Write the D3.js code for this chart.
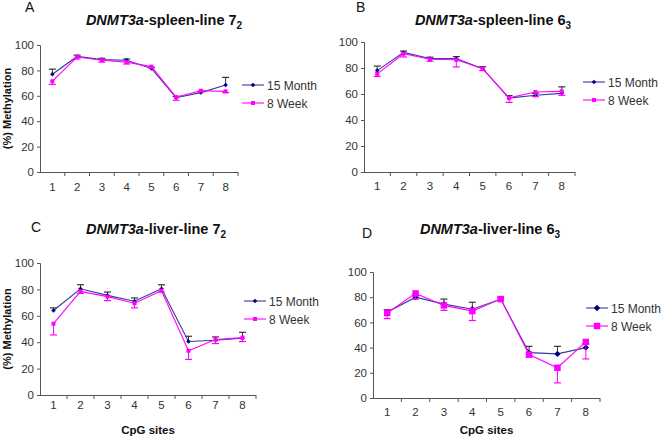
<!DOCTYPE html>
<html><head><meta charset="utf-8">
<script src="https://cdn.jsdelivr.net/npm/d3@7"></script>
<style>
html,body{margin:0;padding:0;background:#fff;}
svg{display:block;font-family:"Liberation Sans",Arial,sans-serif;}
</style></head>
<body>
<svg id="chart" width="662" height="440"></svg>
<script>
// ---------- data ----------
const sites = ["1","2","3","4","5","6","7","8"];
const seriesNames = ["15 Month","8 Week"];
const yTicks = [0,20,40,60,80,100];

const spleen72_month15    = [77, 91, 88.5, 88, 81.5, 58.5, 62.5, 68.5];
const spleen72_month15Err = [4, 1, 1, 1, 1, 1, 1, 6];
const spleen72_week8      = [71.5, 90.5, 88, 86.5, 83, 59, 64, 63.5];
const spleen72_week8Err   = [2.5, 1.5, 1.5, 1.5, 1, 2.5, 1, 1];

const spleen63_month15    = [78, 92, 87.3, 87.3, 79.5, 56.8, 59, 60.5];
const spleen63_month15Err = [3.5, 1, 1, 1.5, 1.5, 2, 1.5, 5];
const spleen63_week8      = [75.5, 91, 86.7, 86.3, 79.5, 57, 61.5, 62];
const spleen63_week8Err   = [2, 2.5, 1.5, 5.5, 1.5, 3.5, 3.5, 3];

const liver72_month15     = [64, 80.5, 75.5, 71, 80.5, 40.5, 41.5, 43];
const liver72_month15Err  = [2, 3, 2.5, 2.5, 3, 4, 2.5, 4.5];
const liver72_week8       = [54, 78.5, 74.5, 69.5, 79, 33.5, 42, 43.5];
const liver72_week8Err    = [8.5, 1.5, 3, 3.5, 1, 6.5, 3, 3];

const liver63_month15     = [68, 80, 74.5, 70.5, 78.5, 36, 35, 40];
const liver63_month15Err  = [2, 1.5, 4, 5.5, 1, 5, 6, 3];
const liver63_week8       = [67.5, 83, 73.5, 69, 78.5, 34.5, 24, 44.5];
const liver63_week8Err    = [4.5, 4.5, 4, 7.5, 1, 2, 12, 13.5];

// ---------- layout ----------
const panels = [
  {letter:"A", tissue:"spleen", line:"7", sub:"2", m:spleen72_month15, me:spleen72_month15Err, w:spleen72_week8, we:spleen72_week8Err,
   x0:40, x1:238, yT:45, yB:172, lx:25, ly:12, tx:164, ty:25, legX:242, legY:85, xlabOff:20, ylab:true, xlab:false, big:false},
  {letter:"B", tissue:"spleen", line:"6", sub:"3", m:spleen63_month15, me:spleen63_month15Err, w:spleen63_week8, we:spleen63_week8Err,
   x0:364, x1:575, yT:42, yB:172, lx:356, ly:12, tx:493, ty:25, legX:583, legY:82, xlabOff:19, ylab:false, xlab:false, big:false},
  {letter:"C", tissue:"liver", line:"7", sub:"2", m:liver72_month15, me:liver72_month15Err, w:liver72_week8, we:liver72_week8Err,
   x0:40, x1:256, yT:263, yB:395, lx:31, ly:232, tx:156, ty:234, legX:244, legY:301, xlabOff:15, ylab:true, xlab:true, big:false},
  {letter:"D", tissue:"liver", line:"6", sub:"3", m:liver63_month15, me:liver63_month15Err, w:liver63_week8, we:liver63_week8Err,
   x0:373, x1:600, yT:272, yB:398, lx:362, ly:238, tx:490, ty:234, legX:586, legY:308, xlabOff:19, ylab:false, xlab:true, big:true}
];

const navyLine = "#3a3a9a", navy = "#000080", mag = "#ff00ff", axisCol = "#555", txtCol = "#333";
const svg = d3.select("#chart");

panels.forEach(p => {
  const g = svg.append("g");
  const x = d3.scaleBand().domain(sites).range([p.x0, p.x1]);
  const y = d3.scaleLinear().domain([0,100]).range([p.yB, p.yT]);
  const cx = d => x(d) + x.bandwidth()/2;

  // y axis
  const ya = g.append("g").attr("transform", `translate(${p.x0},0)`)
    .call(d3.axisLeft(y).tickValues(yTicks).tickSize(3).tickPadding(3));
  ya.select(".domain").attr("stroke", axisCol);
  ya.selectAll(".tick line").attr("stroke", axisCol);
  ya.selectAll(".tick text").attr("fill", txtCol).style("font-size","11.5px").style("font-family","Liberation Sans, Arial, sans-serif");

  // x axis
  const xa = g.append("g").attr("transform", `translate(0,${p.yB})`)
    .call(d3.axisBottom(x).tickSize(0).tickPadding(p.xlabOff - 9));
  xa.select(".domain").attr("stroke", axisCol).attr("d", `M${p.x0},0.5H${p.x1}`);
  xa.selectAll(".tick text").attr("fill", txtCol).style("font-size","11.5px").style("font-family","Liberation Sans, Arial, sans-serif");
  // boundary ticks
  const bounds = sites.map(s => x(s)).concat([p.x1]).slice(1);
  g.selectAll(".bt").data(bounds).enter().append("line")
    .attr("x1", d => d).attr("x2", d => d).attr("y1", p.yB).attr("y2", p.yB + 4)
    .attr("stroke", axisCol);

  // series
  const series = [
    {vals:p.m, err:p.me, dir:1, line:navyLine, mark:navy, errCol:"#333", shape:"diamond"},
    {vals:p.w, err:p.we, dir:-1, line:mag, mark:mag, errCol:mag, shape:"square"}
  ];
  const symSize = s => s.shape === "diamond" ? (p.big ? 20 : 10) : (p.big ? 42 : 16);
  const rot = s => s.shape === "diamond" ? " rotate(45)" : "";
  series.forEach(s => {
    const pts = sites.map((c,i) => ({c, v:s.vals[i], e:s.err[i]}));
    // error bars
    pts.forEach(d => {
      const yv = y(d.v), ye = y(d.v + s.dir*d.e);
      g.append("line").attr("x1", cx(d.c)).attr("x2", cx(d.c)).attr("y1", yv).attr("y2", ye).attr("stroke", s.errCol).attr("stroke-width",1);
      g.append("line").attr("x1", cx(d.c)-3.5).attr("x2", cx(d.c)+3.5).attr("y1", ye).attr("y2", ye).attr("stroke", s.errCol).attr("stroke-width",1.2);
    });
    g.append("path").datum(pts)
      .attr("d", d3.line().x(d => cx(d.c)).y(d => y(d.v)))
      .attr("fill","none").attr("stroke", s.line).attr("stroke-width", 1.1);
    const sym = d3.symbol().type(d3.symbolSquare).size(symSize(s));
    g.selectAll(null).data(pts).enter().append("path")
      .attr("d", sym).attr("transform", d => `translate(${cx(d.c)},${y(d.v)})${rot(s)}`)
      .attr("fill", s.mark);
  });

  // legend
  series.forEach((s,i) => {
    const ly = p.legY + i*18;
    g.append("line").attr("x1", p.legX).attr("x2", p.legX + 22).attr("y1", ly).attr("y2", ly).attr("stroke", s.line).attr("stroke-width",1.1);
    const sym = d3.symbol().type(d3.symbolSquare).size(symSize(s));
    g.append("path").attr("d", sym).attr("transform", `translate(${p.legX+11},${ly})${rot(s)}`).attr("fill", s.mark);
    g.append("text").attr("x", p.legX + 25).attr("y", ly + 4.5).text(seriesNames[i])
      .attr("fill", txtCol).style("font-size","12px");
  });

  // panel letter
  g.append("text").attr("x", p.lx).attr("y", p.ly).text(p.letter).attr("fill","#111").style("font-size","14px");

  // title
  const t = g.append("text").attr("x", p.tx).attr("y", p.ty).attr("text-anchor","middle")
    .attr("fill","#111").style("font-size","14.5px").style("font-weight","bold");
  t.append("tspan").style("font-style","italic").text("DNMT3a");
  t.append("tspan").text(`-${p.tissue}-line ${p.line}`);
  t.append("tspan").attr("dy", 4).style("font-size","10px").text(p.sub);

  // axis titles
  if (p.ylab) {
    g.append("text").attr("transform", `translate(11,${(p.yT+p.yB)/2}) rotate(-90)`)
      .attr("text-anchor","middle").text("(%) Methylation")
      .attr("fill","#111").style("font-size","11px").style("font-weight","bold");
  }
  if (p.xlab) {
    g.append("text").attr("x", (p.x0+p.x1)/2).attr("y", 434).attr("text-anchor","middle")
      .text("CpG sites").attr("fill","#111").style("font-size","11.5px").style("font-weight","bold");
  }
});
</script>
</body></html>
